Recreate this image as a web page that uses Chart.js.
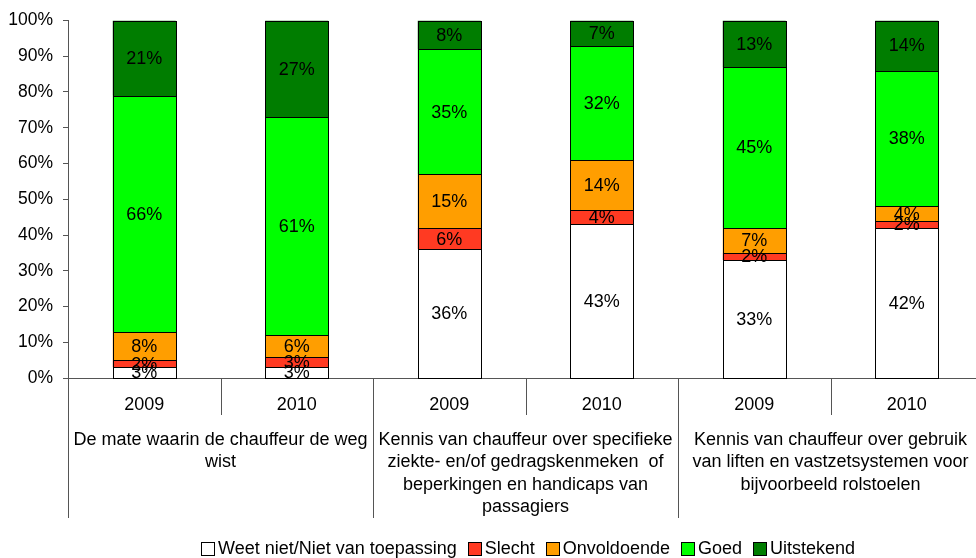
<!DOCTYPE html>
<html>
<head>
<meta charset="utf-8">
<script src="https://cdn.jsdelivr.net/npm/chart.js@4/dist/chart.umd.min.js"></script>
<style>
  html, body { margin: 0; padding: 0; background: #fff; overflow: hidden; }
  #wrap { position: relative; width: 983px; height: 558px; }
  #legend { position: absolute; left: 201px; top: 538px; display: flex; font: 18px Arial, 'Liberation Sans', sans-serif; color: #000; white-space: nowrap; }
  #legend span.item { display: inline-flex; align-items: center; margin-right: 11px; }
  #legend span.box { display: inline-block; width: 12px; height: 12px; border: 1px solid #000; margin-right: 3px; }
</style>
</head>
<body>
<div id="wrap">
  <canvas id="chart"></canvas>
  <div id="legend"></div>
</div>
<script>
// Categories (bars) and groups of the two-level x axis
const years = ['2009', '2010', '2009', '2010', '2009', '2010'];
const groups = [
  ['De mate waarin de chauffeur de weg', 'wist'],
  ['Kennis van chauffeur over specifieke', 'ziekte- en/of gedragskenmeken  of', 'beperkingen en handicaps van', 'passagiers'],
  ['Kennis van chauffeur over gebruik', 'van liften en vastzetsystemen voor', 'bijvoorbeeld rolstoelen'],
];

// Series values (percent), bottom to top
const weetNiet = [3, 3, 36, 43, 33, 42];
const slecht = [2, 3, 6, 4, 2, 2];
const onvoldoende = [8, 6, 15, 14, 7, 4];
const goed = [66, 61, 35, 32, 45, 38];
const uitstekend = [21, 27, 8, 7, 13, 14];

const yTicks = [0, 10, 20, 30, 40, 50, 60, 70, 80, 90, 100];

const FONT = "Arial, 'Liberation Sans', sans-serif";

const ds = (label, data, color) => ({
  label,
  data,
  backgroundColor: color,
  borderWidth: 0,
  barPercentage: 0.413,
  categoryPercentage: 1,
});

// Pixel-snapped fills, black outlines and centered value labels per segment
const segments = {
  id: 'segments',
  afterDatasetsDraw(c) {
    const ctx = c.ctx;
    ctx.save();
    const boxes = [];
    c.data.datasets.forEach((d, i) => {
      c.getDatasetMeta(i).data.forEach((el) => {
        const l = Math.round(el.x - el.width / 2);
        const r = Math.round(el.x + el.width / 2);
        const t = Math.round(Math.min(el.y, el.base));
        const b = Math.round(Math.max(el.y, el.base));
        ctx.fillStyle = d.backgroundColor;
        ctx.fillRect(l, t, r - l, b - t);
        boxes.push([l, t, r, b]);
      });
    });
    ctx.strokeStyle = '#000';
    ctx.lineWidth = 1;
    boxes.forEach(([l, t, r, b]) => ctx.strokeRect(l + 0.5, t + 0.5, r - l, b - t));
    ctx.font = '18px ' + FONT;
    ctx.fillStyle = '#000';
    ctx.textAlign = 'center';
    ctx.textBaseline = 'middle';
    c.data.datasets.forEach((d, i) => {
      c.getDatasetMeta(i).data.forEach((el, j) => {
        ctx.fillText(d.data[j] + '%', el.x, (el.y + el.base) / 2 + 1);
      });
    });
    ctx.restore();
  },
};

// Two-level category axis: years, separators and group titles
const groupAxis = {
  id: 'groupAxis',
  afterDraw(c) {
    const ctx = c.ctx;
    const x = c.scales.x;
    const bottom = c.chartArea.bottom;
    const step = x.getPixelForValue(1) - x.getPixelForValue(0);
    ctx.save();
    ctx.strokeStyle = '#555';
    ctx.lineWidth = 1;
    ctx.font = '18px ' + FONT;
    ctx.fillStyle = '#000';
    ctx.textAlign = 'center';
    ctx.textBaseline = 'middle';
    years.forEach((yr, i) => {
      const cx = x.getPixelForValue(i);
      const left = Math.round(cx - step / 2) + 0.5;
      const len = i % 2 === 0 ? 140 : 37;
      ctx.beginPath();
      ctx.moveTo(left, bottom);
      ctx.lineTo(left, bottom + len);
      ctx.stroke();
      ctx.fillText(yr, cx, bottom + 27);
    });
    groups.forEach((lines, g) => {
      const cx = (x.getPixelForValue(g * 2) + x.getPixelForValue(g * 2 + 1)) / 2;
      lines.forEach((line, k) => {
        ctx.fillText(line, cx, bottom + 62 + k * 22.5);
      });
    });
    ctx.restore();
  },
};

const chart = new Chart(document.getElementById('chart'), {
  type: 'bar',
  data: {
    labels: years,
    datasets: [
      ds('Weet niet/Niet van toepassing', weetNiet, '#FFFFFF'),
      ds('Slecht', slecht, '#FF3A22'),
      ds('Onvoldoende', onvoldoende, '#FF9E00'),
      ds('Goed', goed, '#00FF00'),
      ds('Uitstekend', uitstekend, '#007D00'),
    ],
  },
  options: {
    responsive: true,
    maintainAspectRatio: false,
    animation: false,
    layout: { padding: { top: 20, left: 0, right: 0, bottom: 0 } },
    scales: {
      x: {
        stacked: true,
        afterFit: (s) => { s.height = 180; },
        grid: { display: false, drawTicks: false },
        ticks: { display: false },
        border: { display: true, color: '#555' },
      },
      y: {
        stacked: true,
        min: 0,
        max: 100,
        afterFit: (s) => { s.width = 68; },
        afterBuildTicks: (s) => { s.ticks = yTicks.map(v => ({ value: v })); },
        grid: { drawOnChartArea: false, drawTicks: true, tickLength: 5, color: '#555' },
        border: { display: true, color: '#555' },
        ticks: {
          padding: 10,
          color: '#000',
          font: { size: 17.5, family: FONT },
          callback: (v) => v + '%',
        },
      },
    },
    plugins: {
      legend: { display: false },
      tooltip: { enabled: false },
    },
  },
  plugins: [segments, groupAxis],
});

// HTML legend built from the chart's own legend items
const legendEl = document.getElementById('legend');
chart.options.plugins.legend.labels.generateLabels(chart).forEach((item) => {
  const span = document.createElement('span');
  span.className = 'item';
  const box = document.createElement('span');
  box.className = 'box';
  box.style.background = item.fillStyle;
  span.appendChild(box);
  span.appendChild(document.createTextNode(item.text));
  legendEl.appendChild(span);
});
</script>
</body>
</html>
